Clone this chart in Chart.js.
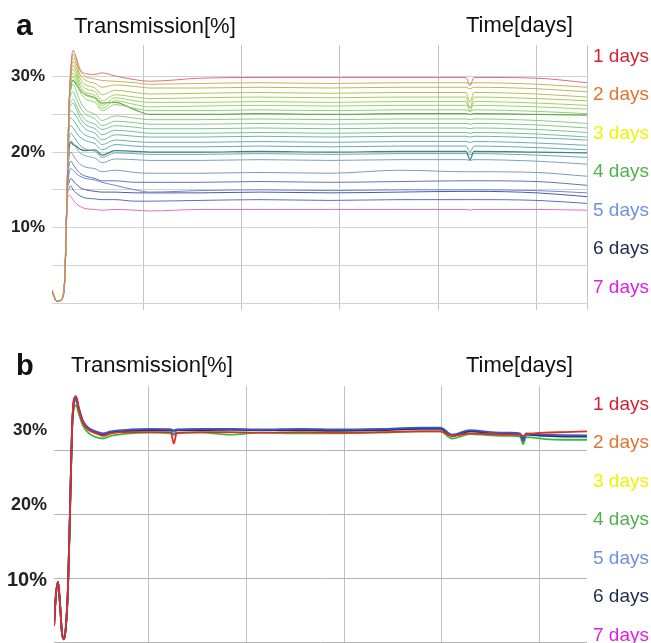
<!DOCTYPE html>
<html>
<head>
<meta charset="utf-8">
<script src="https://cdn.jsdelivr.net/npm/chart.js@4.4.0/dist/chart.umd.min.js"></script>
<style>
  body { margin: 0; width: 651px; height: 643px; overflow: hidden; position: relative; background: #fff;
         font-family: "Liberation Sans", Arial, sans-serif; }
  canvas { position: absolute; left: 0; }
  .txt { position: absolute; line-height: 1; white-space: nowrap; color: #111; }
</style>
</head>
<body>
<canvas id="chartA" width="651" height="321" style="top:0"></canvas>
<canvas id="chartB" width="651" height="331" style="top:330px"></canvas>

<div class="txt" style="left:16px;top:10px;font-size:30px;font-weight:bold">a</div>
<div class="txt" style="left:74px;top:14.6px;font-size:22px">Transmission[%]</div>
<div class="txt" style="left:466px;top:14.4px;font-size:22px">Time[days]</div>
<div class="txt" style="left:16px;top:350.5px;font-size:29px;font-weight:bold">b</div>
<div class="txt" style="left:71px;top:354px;font-size:22px">Transmission[%]</div>
<div class="txt" style="left:466px;top:354px;font-size:22px">Time[days]</div>
<div id="legends"></div>

<script>
// Legend on the right of both panels
const dayLabels = ['1 days', '2 days', '3 days', '4 days', '5 days', '6 days', '7 days'];
const dayColors = ['#d3232e', '#e0742e', '#f2f200', '#4fb24a', '#6f90e0', '#1f2b50', '#e020e0'];

// Y tick labels
const yLabels = { 10: '10%', 20: '20%', 30: '30%' };

// ---- Panel a: x in days, 6 shared start points then one value per series at each later x
const xA = [0.076, 0.096, 0.127, 0.157, 0.188, 0.208,
    0.228, 0.249, 0.269, 0.289, 0.320, 0.360, 0.421, 0.513, 0.584, 0.716, 0.919,
    1.071, 1.579, 2.188, 2.898, 3.609, 4.279, 4.320, 4.360, 5.000, 5.508];
const riseA = [1.7, 0.9, 0.2, 0.3, 0.9, 4.0]; // all curves overlap here

const valuesA = [
    [14, 26, 31.5, 33.5, 32.6, 31.0, 30.4, 30.3, 30.5, 30.1, 29.6, 29.4, 29.8, 29.9, 29.9, 29.9, 29.9, 28.8, 29.9, 29.8, 29.2],
    [14, 26, 31.2, 33.0, 32.2, 30.8, 30.0, 29.7, 29.5, 29.4, 29.2, 29.0, 29.1, 29.2, 29.1, 29.2, 29.2, 29.1, 29.2, 29.0, 28.6],
    [14, 26, 31.0, 32.5, 31.8, 30.3, 29.5, 29.1, 28.6, 28.9, 28.7, 28.5, 28.5, 28.6, 28.5, 28.6, 28.6, 28.4, 28.6, 28.4, 28.0],
    [14, 26, 30.6, 32.0, 31.3, 29.8, 28.9, 28.5, 27.6, 28.2, 27.9, 27.7, 27.8, 27.9, 27.8, 27.9, 27.9, 26.6, 27.9, 27.7, 27.3],
    [14, 26, 30.3, 31.5, 30.8, 29.3, 28.4, 28.0, 26.8, 27.6, 27.3, 27.1, 27.2, 27.3, 27.2, 27.3, 27.3, 25.8, 27.3, 27.1, 26.8],
    [14, 26, 30.0, 31.0, 30.3, 28.8, 27.9, 27.5, 26.2, 27.2, 26.8, 26.6, 26.6, 26.7, 26.6, 26.7, 26.7, 25.4, 26.7, 26.5, 26.2],
    [14, 26, 29.6, 30.5, 29.8, 28.4, 27.5, 27.1, 25.8, 26.8, 26.3, 26.0, 26.1, 26.2, 26.1, 26.2, 26.2, 26.0, 26.2, 26.0, 25.7],
    [14, 26, 29.2, 30.0, 29.3, 28.0, 27.0, 26.6, 25.5, 26.3, 25.8, 25.5, 25.5, 25.6, 25.5, 25.6, 25.6, 25.4, 25.6, 25.4, 25.1],
    [14, 26, 28.8, 29.5, 29.0, 28.2, 27.6, 27.2, 26.5, 26.6, 25.6, 25.0, 25.0, 25.1, 25.0, 25.1, 25.1, 25.0, 25.1, 25.0, 24.9],
    [14, 26, 28.3, 29.0, 28.2, 26.8, 25.6, 25.0, 24.2, 24.8, 24.5, 24.3, 24.3, 24.4, 24.3, 24.4, 24.4, 24.3, 24.4, 24.2, 23.8],
    [14, 26, 27.6, 28.0, 27.2, 26.0, 25.0, 24.4, 23.5, 24.1, 23.9, 23.7, 23.7, 23.8, 23.7, 23.8, 23.8, 23.7, 23.8, 23.6, 23.2],
    [14, 25.5, 26.8, 27.0, 26.3, 25.2, 24.2, 23.7, 23.0, 23.5, 23.3, 23.1, 23.1, 23.2, 23.1, 23.2, 23.2, 23.1, 23.2, 23.0, 22.6],
    [14, 25.0, 26.3, 26.5, 25.8, 24.6, 23.6, 23.1, 22.3, 22.9, 22.7, 22.5, 22.5, 22.6, 22.5, 22.6, 22.6, 22.5, 22.6, 22.4, 22.0],
    [14, 24.5, 25.5, 25.3, 24.8, 23.9, 23.0, 22.5, 21.6, 22.3, 22.1, 22.0, 22.0, 22.1, 22.0, 22.1, 22.1, 22.0, 22.1, 21.9, 21.6],
    [14, 23.8, 24.5, 24.3, 23.7, 22.9, 22.2, 21.8, 21.0, 21.6, 21.4, 21.3, 21.3, 21.4, 21.3, 21.4, 21.4, 21.3, 21.4, 21.2, 20.9],
    [14, 23.0, 23.5, 23.2, 22.6, 22.0, 21.5, 21.1, 20.3, 21.0, 20.8, 20.7, 20.7, 20.8, 20.7, 20.8, 20.8, 20.0, 20.8, 20.6, 20.3],
    [14, 20.5, 21.3, 21.0, 20.8, 20.4, 20.2, 20.3, 19.6, 20.2, 20.1, 20.0, 20.0, 20.1, 20.0, 20.1, 20.1, 19.0, 20.1, 20.0, 19.9],
    [14, 21.8, 22.5, 22.2, 21.6, 20.9, 20.4, 20.1, 19.3, 19.9, 19.8, 19.7, 19.7, 19.8, 19.7, 19.8, 19.8, 19.7, 19.8, 19.6, 19.3],
    [14, 20.8, 21.5, 21.2, 20.6, 19.9, 19.5, 19.2, 18.6, 19.1, 19.0, 18.9, 18.9, 19.0, 18.9, 19.0, 19.0, 18.9, 19.0, 18.8, 18.4],
    [14, 19.4, 20.0, 19.6, 19.0, 18.4, 18.0, 17.8, 17.4, 17.6, 17.3, 17.2, 17.2, 17.3, 17.2, 17.6, 17.4, 17.4, 17.4, 17.3, 16.8],
    [14, 18.2, 18.8, 18.4, 17.8, 17.2, 16.8, 16.5, 16.2, 16.2, 16.0, 16.0, 16.0, 16.1, 16.0, 16.1, 16.2, 16.2, 16.2, 16.1, 15.6],
    [14, 17.2, 17.8, 17.6, 17.2, 16.8, 16.5, 16.3, 16.0, 15.6, 15.0, 14.7, 14.9, 15.0, 14.9, 15.0, 15.0, 15.0, 15.0, 14.9, 14.6],
    [14, 16.0, 16.5, 16.2, 15.8, 15.3, 15.0, 14.8, 14.7, 14.7, 14.6, 14.6, 14.6, 14.7, 14.6, 14.7, 14.8, 14.8, 14.8, 14.6, 14.1],
    [13.5, 15.2, 15.5, 15.0, 14.6, 14.2, 13.9, 13.8, 13.7, 13.7, 13.5, 13.5, 13.6, 13.7, 13.6, 13.7, 13.7, 13.7, 13.7, 13.6, 13.2],
    [12.5, 14.3, 14.1, 13.7, 13.2, 12.8, 12.5, 12.4, 12.3, 12.4, 12.3, 12.2, 12.4, 12.4, 12.4, 12.4, 12.4, 12.3, 12.4, 12.4, 12.3]
];
const colorsA = ['#dd7078', '#c8b060', '#bcb854', '#b0c250', '#a8ca58', '#a0d060', '#98d468', '#90d070',
    '#64aa4e', '#8ccc80', '#84c888', '#7cc490', '#74be98', '#6cb89e', '#66b2a4', '#64acaa',
    '#3e8482', '#6aa8b6', '#7aa2c2', '#7898c6', '#5a78b6', '#6888d2', '#4a5aa6', '#5a6cca', '#e470bc'];

// ---- Panel b
const xB = [0.029, 0.049, 0.070, 0.090, 0.110, 0.131, 0.151, 0.172, 0.192, 0.213,
    0.233, 0.254, 0.284, 0.325, 0.387, 0.458, 0.530, 0.611, 0.816, 1.020, 1.225, 1.256, 1.286,
    1.532, 1.838, 2.145, 2.554, 2.963, 3.372, 3.781, 3.986, 4.108, 4.292, 4.497, 4.701,
    4.804, 4.834, 4.865, 5.059, 5.264, 5.489];
const riseB = [2.5, 7.5, 9.4, 6.0, 1.5, 0.4, 2.5, 8.5, 20, 33];

const redB   = [38.0, 38.2, 36.2, 34.2, 33.1, 32.6, 32.2, 32.6, 32.8, 32.8, 32.8, 31.0, 32.7, 32.8, 32.8, 32.7, 32.8, 32.7, 32.8, 32.9, 32.9, 32.2, 32.6, 32.5, 32.4, 32.4, 32.2, 32.4, 32.7, 32.8, 32.9];
const blueB  = [37.8, 38.4, 36.6, 34.6, 33.4, 32.9, 32.6, 32.9, 33.2, 33.3, 33.2, 33.1, 33.2, 33.3, 33.3, 33.2, 33.3, 33.2, 33.3, 33.5, 33.5, 32.4, 33.1, 32.8, 32.7, 32.6, 31.4, 32.6, 32.4, 32.3, 32.3];
const tealB  = [37.3, 37.8, 36.2, 34.4, 33.3, 32.8, 32.4, 32.8, 33.1, 33.2, 33.2, 32.4, 33.1, 33.2, 33.2, 33.1, 33.2, 33.1, 33.2, 33.4, 33.4, 32.3, 33.0, 32.7, 32.6, 32.5, 31.6, 32.5, 32.3, 32.3, 32.2];
const navyB  = [37.6, 38.1, 36.3, 34.4, 33.3, 32.8, 32.5, 32.8, 33.0, 33.1, 33.1, 33.0, 33.1, 33.1, 33.2, 33.1, 33.1, 33.0, 33.1, 33.3, 33.3, 32.2, 32.9, 32.6, 32.5, 32.4, 31.8, 32.4, 32.2, 32.1, 32.1];
const greenB = [36.4, 37.0, 35.6, 33.8, 32.6, 32.0, 31.8, 32.2, 32.6, 32.7, 32.6, 32.4, 32.6, 32.7, 32.4, 32.7, 32.6, 32.6, 32.7, 32.9, 32.9, 31.8, 32.5, 32.3, 32.2, 32.1, 30.9, 32.0, 31.7, 31.6, 31.6];
const seriesB = [redB, blueB, navyB, tealB, greenB];
const colorsB = ['#e42a22', '#3a58c4', '#23306a', '#3a8aa6', '#3cb83c'];

const FONT = '"Liberation Sans", Arial, sans-serif';

function toPoints(xs, start, vals) {
    return start.concat(vals).map((v, i) => ({ x: xs[i], y: v }));
}

function fixTicks(values) {
    return scale => { scale.ticks = values.map(v => ({ value: v })); };
}

// Panel a
new Chart(document.getElementById('chartA'), {
    type: 'line',
    data: {
        datasets: valuesA.map((vals, i) => ({
            data: toPoints(xA, riseA, vals),
            borderColor: colorsA[i],
            borderWidth: i === 8 || i === 16 ? 1.2 : 1,
            pointRadius: 0,
            cubicInterpolationMode: 'monotone'
        }))
    },
    options: {
        responsive: false,
        animation: false,
        layout: { padding: { left: 4, right: 64, top: 45, bottom: 11 } },
        plugins: { legend: { display: false }, tooltip: { enabled: false } },
        scales: {
            x: {
                type: 'linear', min: xA[0], max: xA[xA.length - 1],
                afterBuildTicks: fixTicks([1, 2, 3, 4, 5, xA[xA.length - 1]]),
                grid: { color: '#c4c4c4', tickLength: 7 },
                border: { display: false },
                ticks: { display: false }
            },
            y: {
                min: 0, max: 34.2,
                afterBuildTicks: fixTicks([0, 5, 10, 15, 20, 25, 30]),
                grid: { color: '#d2d2d2', drawTicks: false },
                border: { display: false },
                ticks: {
                    padding: 7, color: '#222',
                    font: { family: FONT, size: 17, weight: 'bold' },
                    callback: v => yLabels[v] || ''
                }
            }
        }
    }
});

// Panel b: data axis "y" holds the grid, "y2" carries the labels where the figure prints them
const labelSizeB = { 10: 20, 20: 18, 30: 17 };
new Chart(document.getElementById('chartB'), {
    type: 'line',
    data: {
        datasets: seriesB.map((vals, i) => ({
            data: toPoints(xB, riseB, vals),
            borderColor: colorsB[i],
            borderWidth: 1.8,
            pointRadius: 0,
            cubicInterpolationMode: 'monotone'
        }))
    },
    options: {
        responsive: false,
        animation: false,
        layout: { padding: { left: 0, right: 64, top: 56, bottom: 12 } },
        plugins: { legend: { display: false }, tooltip: { enabled: false } },
        scales: {
            x: {
                type: 'linear', min: xB[0], max: xB[xB.length - 1],
                afterBuildTicks: fixTicks([1, 2, 3, 4, 5]),
                grid: { color: '#c0c0c0', tickLength: 7 },
                border: { display: false },
                ticks: { display: false }
            },
            y: {
                min: 0, max: 40,
                afterBuildTicks: fixTicks([0, 10, 20, 30]),
                grid: { color: '#b4b4b4', drawTicks: false },
                border: { display: false },
                ticks: { display: false }
            },
            y2: {
                position: 'left', min: 1.73, max: 35.87,
                afterBuildTicks: fixTicks([10, 20, 30]),
                grid: { display: false, drawTicks: false },
                border: { display: false },
                ticks: {
                    padding: 7, color: '#222',
                    font: ctx => ({ family: FONT, size: ctx.tick ? labelSizeB[ctx.tick.value] : 17, weight: 'bold' }),
                    callback: v => yLabels[v] || ''
                }
            }
        }
    }
});

// Day labels on the right
const legendBox = document.getElementById('legends');
[45.6, 393.9].forEach(top0 => {
    dayLabels.forEach((txt, i) => {
        const d = document.createElement('div');
        d.className = 'txt';
        d.textContent = txt;
        d.style.left = '593px';
        d.style.top = (top0 + i * 38.5) + 'px';
        d.style.fontSize = '19px';
        d.style.color = dayColors[i];
        legendBox.appendChild(d);
    });
});
</script>
</body>
</html>
